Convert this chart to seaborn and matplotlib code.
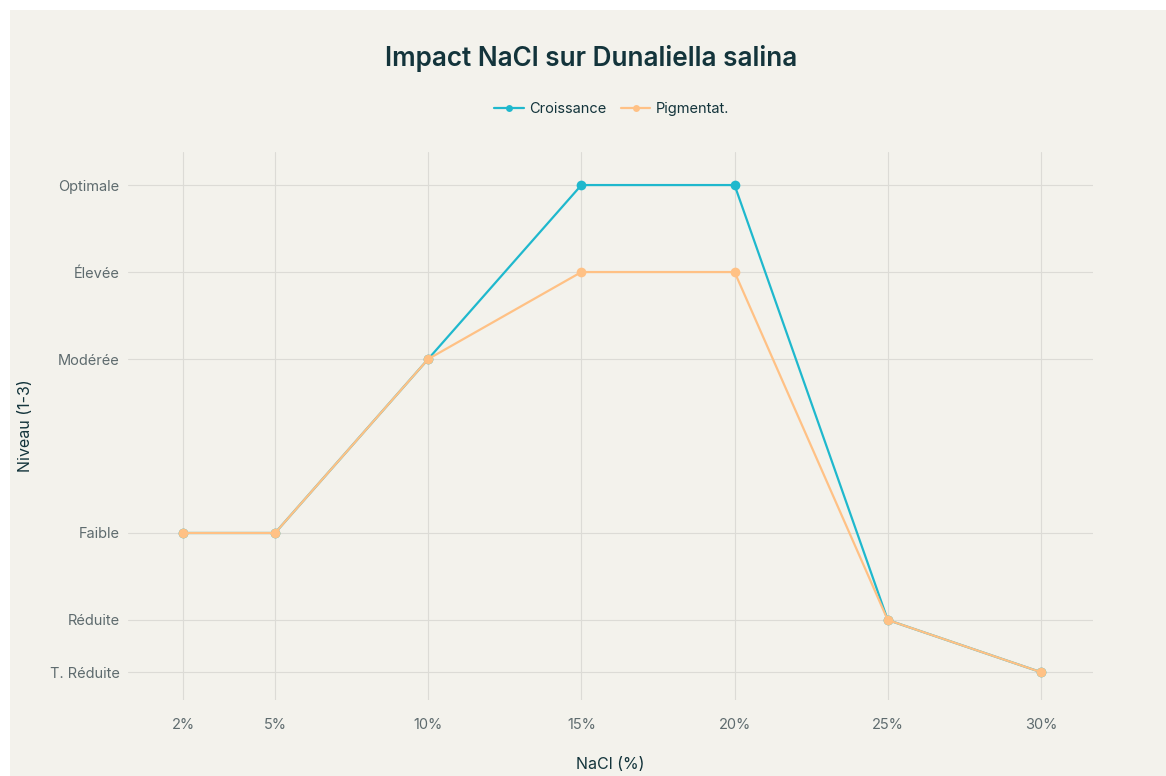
import matplotlib
matplotlib.use("Agg")
import matplotlib.pyplot as plt
import seaborn as sns
import pandas as pd
from matplotlib.patches import Rectangle
from matplotlib.lines import Line2D

# ---- data ----
nacl = [2, 5, 10, 15, 20, 25, 30]
x_labels = ["2%", "5%", "10%", "15%", "20%", "25%", "30%"]
croissance = [1, 1, 2, 3, 3, 0.5, 0.2]
pigmentation = [1, 1, 2, 2.5, 2.5, 0.5, 0.2]
series_names = ["Croissance", "Pigmentat."]
y_ticks = [3, 2.5, 2, 1, 0.5, 0.2]
y_labels = ["Optimale", "Élevée", "Modérée", "Faible", "Réduite", "T. Réduite"]

df = pd.DataFrame({
    "NaCl": nacl * 2,
    "Niveau": croissance + pigmentation,
    "Série": [series_names[0]] * len(nacl) + [series_names[1]] * len(nacl),
})

BG = "#F3F2EC"
GRID = "#DCDBD6"
TEAL = "#1FB8CD"
ORANGE = "#FFC185"
TITLE_C = "#13343B"
TICK_C = "#5E6B6E"

sns.set_theme(style="white")
plt.rcParams["font.family"] = ["Inter", "DejaVu Sans"]

fig = plt.figure(figsize=(11.66, 7.76), dpi=100, facecolor="white")
fig.patches.append(Rectangle((10 / 1166, 0), 1 - 10 / 1166, 1 - 10 / 776,
                             transform=fig.transFigure, facecolor=BG,
                             edgecolor="none", zorder=-10))

ax = fig.add_axes([128 / 1166, 1 - 700 / 776, (1093 - 128) / 1166, (700 - 152) / 776])
ax.set_facecolor(BG)

sns.lineplot(data=df, x="NaCl", y="Niveau", hue="Série",
             palette={series_names[0]: TEAL, series_names[1]: ORANGE},
             marker="o", markersize=7, markeredgewidth=0, linewidth=1.6,
             ax=ax, legend=False)

ax.set_xlim(0.2, 31.7)
ax.set_ylim(0.04, 3.19)
ax.set_xticks(nacl)
ax.set_xticklabels(x_labels)
ax.set_yticks(y_ticks)
ax.set_yticklabels(y_labels)

ax.grid(True, color=GRID, linewidth=0.8)
ax.set_axisbelow(True)
for s in ax.spines.values():
    s.set_visible(False)

ax.tick_params(axis="x", length=7, color=GRID, width=0.8, pad=6,
               labelsize=10.5, labelcolor=TICK_C)
ax.tick_params(axis="y", length=0, pad=6, labelsize=10.5, labelcolor=TICK_C)

ax.set_xlabel("NaCl (%)", fontsize=11.5, color=TITLE_C, labelpad=18)
ax.set_ylabel("Niveau (1-3)", fontsize=11.5, color=TITLE_C, labelpad=12)

fig.text(591 / 1166, 1 - 58 / 776, "Impact NaCl sur Dunaliella salina",
         ha="center", va="center", fontsize=18.8, fontweight="semibold", color=TITLE_C)

handles = [Line2D([0], [0], color=TEAL, marker="o", markersize=5, markeredgewidth=0, linewidth=1.6),
           Line2D([0], [0], color=ORANGE, marker="o", markersize=5, markeredgewidth=0, linewidth=1.6)]
fig.legend(handles, series_names, loc="center", bbox_to_anchor=(612 / 1166, 1 - 109 / 776),
           ncol=2, frameon=False, fontsize=10.5, handlelength=2.0, columnspacing=1.0,
           handletextpad=0.4, labelcolor=TITLE_C)

fig.savefig("out.png", dpi=100, facecolor="white")
